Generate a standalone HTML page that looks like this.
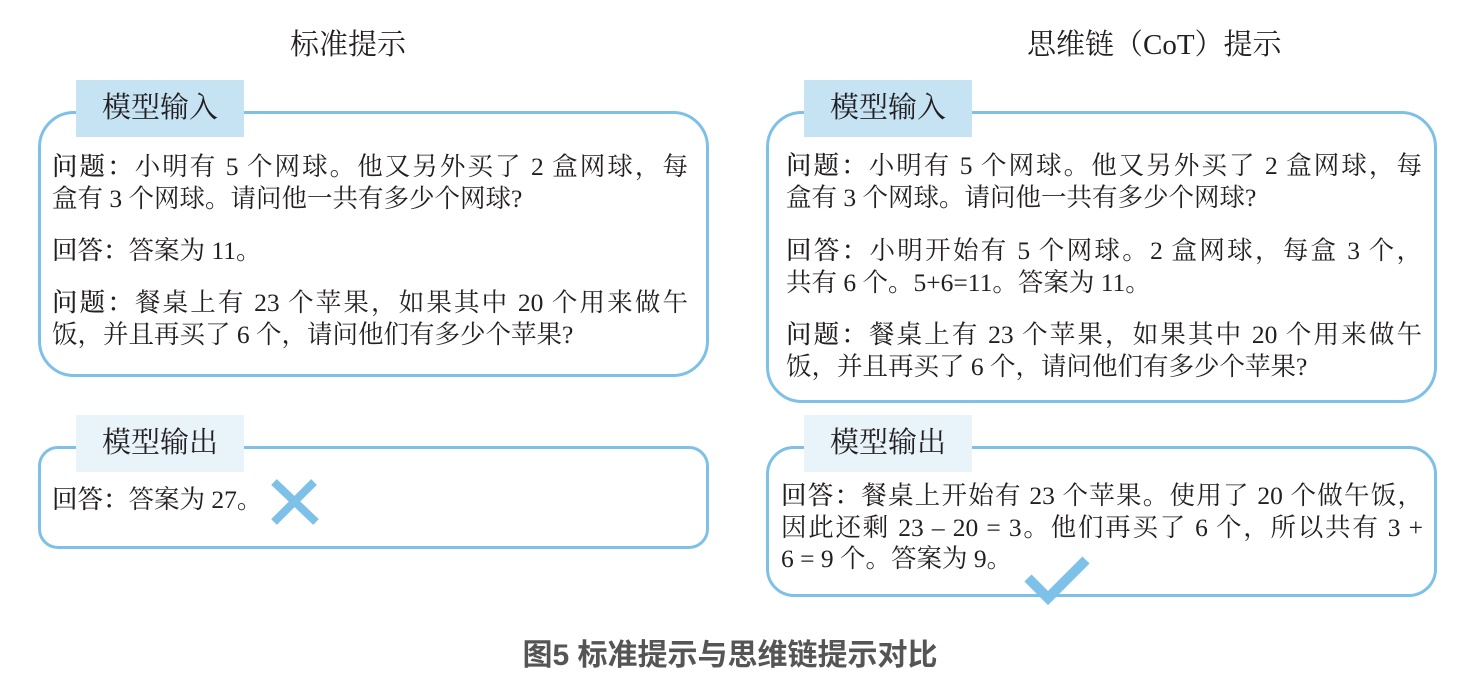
<!DOCTYPE html>
<html><head><meta charset="utf-8"><style>
body{margin:0;width:1477px;height:676px;background:#fff;position:relative;overflow:hidden;font-family:"Liberation Serif","Noto Serif CJK SC",serif;color:#231f20}
.a{position:absolute}
.box{position:absolute;border:3px solid #7dc0e8;border-radius:36px;box-sizing:border-box}
.tab{position:absolute;background:#c6e3f4;font-size:29px;text-align:center;line-height:57px;width:168px;height:57px}
.tab.o{background:#e8f3fa}
.l{position:absolute;font-size:25.5px;white-space:nowrap;line-height:32px}
.j{text-align:justify;text-align-last:justify;white-space:normal;width:636px}
b{font-weight:500}
.t{position:absolute;font-size:29px;top:22px}
</style></head><body>
<div class="t" style="left:290px">标准提示</div>
<div class="t" style="left:1027px">思维链（CoT）提示</div>

<div class="box" style="left:38px;top:111px;width:671px;height:266px"></div>
<div class="tab" style="left:76px;top:80px">模型输入</div>
<div class="l j" style="left:52px;top:151px"><b>问题：</b>小明有 5 个网球。他又另外买了 2 盒网球，每</div>
<div class="l" style="left:52px;top:183px">盒有 3 个网球。请问他一共有多少个网球?</div>
<div class="l" style="left:52px;top:235px"><b>回答：</b>答案为 11。</div>
<div class="l j" style="left:52px;top:287px"><b>问题：</b>餐桌上有 23 个苹果，如果其中 20 个用来做午</div>
<div class="l" style="left:52px;top:319px">饭，并且再买了 6 个，请问他们有多少个苹果?</div>

<div class="box" style="left:38px;top:446px;width:671px;height:103px;border-radius:20px"></div>
<div class="tab o" style="left:76px;top:415px">模型输出</div>
<div class="l" style="left:52px;top:484px"><b>回答：</b>答案为 27。</div>
<svg class="a" style="left:268px;top:476px" width="54" height="52"><path d="M6 6L48 46M46 6L6 46" stroke="#7dc0e8" stroke-width="8"/></svg>

<div class="box" style="left:766px;top:111px;width:671px;height:292px"></div>
<div class="tab" style="left:804px;top:80px">模型输入</div>
<div class="l j" style="left:786px;top:150px"><b>问题：</b>小明有 5 个网球。他又另外买了 2 盒网球，每</div>
<div class="l" style="left:786px;top:182px">盒有 3 个网球。请问他一共有多少个网球?</div>
<div class="l j" style="left:786px;top:235px"><b>回答：</b>小明开始有 5 个网球。2 盒网球，每盒 3 个，</div>
<div class="l" style="left:786px;top:267px">共有 6 个。5+6=11。答案为 11。</div>
<div class="l j" style="left:786px;top:319px"><b>问题：</b>餐桌上有 23 个苹果，如果其中 20 个用来做午</div>
<div class="l" style="left:786px;top:351px">饭，并且再买了 6 个，请问他们有多少个苹果?</div>

<div class="box" style="left:766px;top:446px;width:671px;height:151px;border-radius:28px"></div>
<div class="tab o" style="left:804px;top:415px">模型输出</div>
<div class="l j" style="left:781px;top:480px;width:642px"><b>回答：</b>餐桌上开始有 23 个苹果。使用了 20 个做午饭，</div>
<div class="l j" style="left:781px;top:512px;width:642px">因此还剩 23 – 20 = 3。他们再买了 6 个，所以共有 3 +</div>
<div class="l" style="left:781px;top:543px">6 = 9 个。答案为 9。</div>
<svg class="a" style="left:1022px;top:552px" width="70" height="56"><path d="M6 26L26 46L64 8" stroke="#7dc0e8" stroke-width="10" fill="none"/></svg>

<div class="a" style="left:0;width:1460px;text-align:center;top:630px;font-family:'Liberation Sans','Noto Sans CJK SC',sans-serif;font-weight:bold;font-size:30px;color:#555">图5 标准提示与思维链提示对比</div>
</body></html>
